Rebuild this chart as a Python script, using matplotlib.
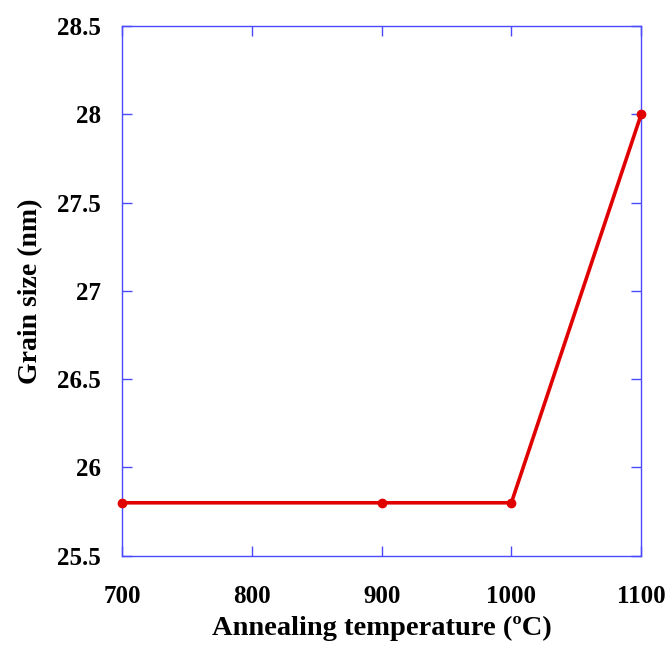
import matplotlib.pyplot as plt

# grain size vs annealing temperature
temperature = [700, 900, 1000, 1100]
grain_size = [25.8, 25.8, 25.8, 28.0]
x_ticks = [700, 800, 900, 1000, 1100]
y_ticks = [25.5, 26, 26.5, 27, 27.5, 28, 28.5]
y_ticklabels = ['25.5', '26', '26.5', '27', '27.5', '28', '28.5']

plt.rcParams['font.family'] = ['Liberation Serif', 'DejaVu Serif']
plt.rcParams['font.weight'] = 'bold'

fig = plt.figure(figsize=(6.7, 6.5), dpi=100)
ax = fig.add_axes([0.182, 0.145, 0.775, 0.815])

ax.plot(temperature, grain_size, color='#e00000', linewidth=2.6,
        marker='o', markersize=6, clip_on=False, zorder=3)

ax.set_xlim(700, 1100)
ax.set_ylim(25.5, 28.5)
ax.set_xticks(x_ticks)
ax.set_yticks(y_ticks)
ax.set_yticklabels(y_ticklabels)

for s in ax.spines.values():
    s.set_color('#4a4aff')
    s.set_linewidth(1.0)

ax.tick_params(axis='both', direction='in', length=7, width=1.0,
               color='#4a4aff', top=True, right=True, labelsize=18)
ax.tick_params(axis='x', pad=21)
ax.tick_params(axis='y', pad=15)

ax.set_xlabel('Annealing temperature (ºC)', fontsize=20.5, fontweight='bold', labelpad=6)
ax.set_ylabel('Grain size (nm)', fontsize=20, fontweight='bold', labelpad=10)

fig.savefig('out.png', dpi=100)
